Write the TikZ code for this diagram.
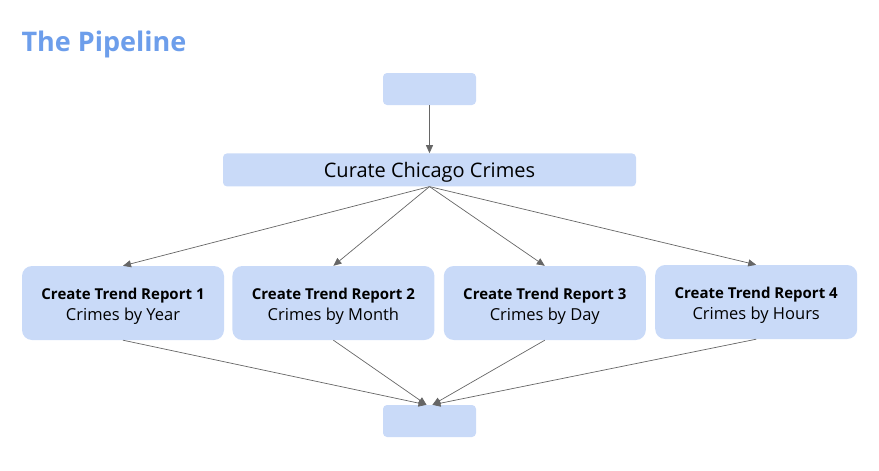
\documentclass[tikz,border=0pt]{standalone}
\usepackage{fontspec}
\setmainfont{Open Sans}
\usetikzlibrary{arrows.meta,positioning}
\definecolor{PipeBlue}{HTML}{6D9EEB}
\definecolor{PipeFill}{HTML}{C9DAF8}
\definecolor{PipeLine}{HTML}{666666}
\tikzset{
  link/.style={-{Triangle[length=8pt,width=7pt]}, line width=0.7pt, draw=PipeLine},
  stagebox/.style={rounded corners=4pt, fill=PipeFill, draw=none, inner sep=0pt},
  report/.style={stagebox, rounded corners=10pt, minimum width=202pt, minimum height=74pt,
                 align=center},
}
\newcommand{\lowered}[2]{\raisebox{-#1}[\height][\depth]{#2}}
\newcommand{\reptext}[2]{\lowered{3pt}{\parbox{190pt}{\centering
  {\fontsize{15}{18}\selectfont\bfseries #1}\\[4pt]
  {\fontsize{16.5}{19}\selectfont #2}}}}
\begin{document}
\begin{tikzpicture}[x=1pt,y=-1pt]
    \useasboundingbox (0,0) rectangle (879,471);
    \node[anchor=west,text=PipeBlue,font=\fontsize{27}{30}\selectfont\bfseries] (title) at (18,44) {The Pipeline};
    \node[stagebox,minimum width=93pt,minimum height=32pt] (src) at (429.5,89) {};
    \node[stagebox,minimum width=413pt,minimum height=33pt,below=48pt of src,
          font=\fontsize{20}{24}\selectfont] (curate) {\lowered{2pt}{Curate Chicago Crimes}};
    % trend reports
    \node[report] (rep1) at (123,303) {\reptext{Create Trend Report 1}{Crimes by Year}};
    \node[report,right=8pt of rep1] (rep2) {\reptext{Create Trend Report 2}{Crimes by Month}};
    \node[report,right=9pt of rep2] (rep3) {\reptext{Create Trend Report 3}{Crimes by Day}};
    \node[report,right=9pt of rep3,yshift=1pt] (rep4) {\reptext{Create Trend Report 4}{Crimes by Hours}};
    \node[stagebox,minimum width=93pt,minimum height=32pt] (sink) at (429.5,421) {};
    \draw[link] (src) -- (curate);
    \foreach \r in {1,2,3,4}
      \draw[link] (curate.south) -- (rep\r.north);
    \draw[link] (rep1.south) -- ([xshift=-3pt]sink.north);
    \draw[link] (rep2.south) -- ([xshift=-3pt]sink.north);
    \draw[link] (rep3.south) -- ([xshift=3pt]sink.north);
    \draw[link] (rep4.south) -- ([xshift=3pt]sink.north);
\end{tikzpicture}
\end{document}
